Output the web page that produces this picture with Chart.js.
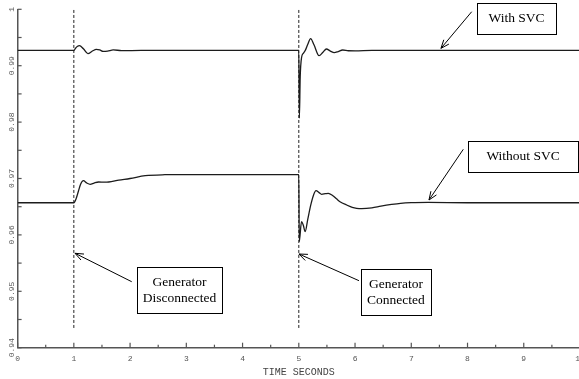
<!DOCTYPE html>
<html><head><meta charset="utf-8">
<script src="https://cdn.jsdelivr.net/npm/chart.js@4/dist/chart.umd.min.js"></script>
<style>html,body{margin:0;padding:0;overflow:hidden;background:#fff}#wrap{position:absolute;left:0;top:0;width:582px;height:379px}</style>
</head><body><div id="wrap"><canvas id="c" width="582" height="379"></canvas></div>
<script>
// ---- data ----
const timeWithSVC = [0, 1.0, 1.03, 1.06, 1.10, 1.17, 1.25, 1.33, 1.40, 1.46, 1.52, 1.60, 1.70, 1.85, 2.2, 3.0, 4.0, 5.0, 5.01, 5.025, 5.05, 5.08, 5.12, 5.16, 5.21, 5.27, 5.36, 5.43, 5.49, 5.56, 5.63, 5.70, 5.78, 5.88, 6.0, 6.3, 7.0, 8.0, 9.0, 10.0];
const voltWithSVC = [0.9927, 0.9927, 0.9931, 0.9934, 0.99355, 0.9930, 0.99215, 0.9926, 0.9929, 0.9928, 0.99255, 0.9926, 0.9928, 0.99268, 0.9927, 0.9927, 0.9927, 0.9927, 0.9807, 0.9880, 0.9915, 0.9922, 0.9928, 0.9938, 0.99479, 0.9937, 0.99177, 0.9924, 0.99296, 0.9926, 0.99231, 0.9925, 0.99278, 0.99265, 0.99262, 0.9927, 0.9927, 0.9927, 0.9927, 0.9927];
const timeWithoutSVC = [0, 1.0, 1.04, 1.08, 1.12, 1.17, 1.23, 1.29, 1.36, 1.44, 1.55, 1.62, 1.8, 2.0, 2.27, 2.62, 3.0, 4.0, 5.0, 5.008, 5.048, 5.08, 5.113, 5.16, 5.21, 5.26, 5.306, 5.36, 5.406, 5.47, 5.525, 5.6, 5.67, 5.732, 5.85, 5.95, 6.028, 6.12, 6.3, 6.46, 6.65, 6.81, 7.0, 7.3, 8.0, 9.0, 10.0];
const voltWithoutSVC = [0.9657, 0.9657, 0.9664, 0.9677, 0.9690, 0.96961, 0.9692, 0.96897, 0.9692, 0.96938, 0.96935, 0.96938, 0.9697, 0.9700, 0.9705, 0.97067, 0.9707, 0.9707, 0.9707, 0.9588, 0.96234, 0.9617, 0.96057, 0.9628, 0.9652, 0.9670, 0.96784, 0.9675, 0.9672, 0.9673, 0.96738, 0.9670, 0.9664, 0.96589, 0.9653, 0.9649, 0.96472, 0.96466, 0.9648, 0.9651, 0.9654, 0.9656, 0.96571, 0.96575, 0.9657, 0.9657, 0.9657];
const eventTimes = [1, 5];
const eventSpan = [0.9435, 1.0];
const xTicks = [0, 1, 2, 3, 4, 5, 6, 7, 8, 9, 10];
const yTicks = [0.94, 0.95, 0.96, 0.97, 0.98, 0.99, 1.0];
const yTickLabels = ['0.94', '0.95', '0.96', '0.97', '0.98', '0.99', '1'];
const xTitle = 'TIME SECONDS';
const noteTexts = [['With SVC'], ['Without SVC'], ['Generator', 'Disconnected'], ['Generator', 'Connected']];

// ---- annotation placement (data coordinates) ----
const notePlacement = [
  {box: [8.169, 1.0012, 9.573, 0.9957], tail: [8.074, 0.99957], tip: [7.528, 0.99308]},
  {box: [8.010, 0.97665, 9.965, 0.97115], tail: [7.925, 0.97518], tip: [7.315, 0.96619]},
  {box: [2.123, 0.95426, 3.634, 0.94615], tail: [2.029, 0.9517], tip: [1.021, 0.95674]},
  {box: [6.106, 0.95390, 7.350, 0.94578], tail: [6.070, 0.95188], tip: [5.003, 0.95661]}
];

const toXY = (ts, vs) => ts.map((t, i) => ({x: t, y: vs[i]}));
const datasets = [
  {data: toXY(timeWithSVC, voltWithSVC), borderColor: '#1c1c1c', borderWidth: 1.3, pointRadius: 0, cubicInterpolationMode: 'monotone'},
  {data: toXY(timeWithoutSVC, voltWithoutSVC), borderColor: '#1c1c1c', borderWidth: 1.3, pointRadius: 0, cubicInterpolationMode: 'monotone'}
];
eventTimes.forEach(t => datasets.push({
  data: eventSpan.map(v => ({x: t, y: v})), borderColor: '#222', borderWidth: 1, borderDash: [3, 2], pointRadius: 0
}));

const mono = '"Liberation Mono", "DejaVu Sans Mono", monospace';

const decorPlugin = {
  id: 'decor',
  afterDatasetsDraw(chart) {
    const {ctx} = chart;
    const xs = chart.scales.x, ys = chart.scales.y;
    const a = chart.chartArea;
    ctx.save();
    // inner tick marks
    ctx.strokeStyle = '#555';
    ctx.lineWidth = 1.2;
    for (let k = 0; k <= 20; k++) {
      const px = xs.getPixelForValue(k / 2);
      const len = k % 2 === 0 ? 5 : 3;
      ctx.beginPath(); ctx.moveTo(px, a.bottom); ctx.lineTo(px, a.bottom - len); ctx.stroke();
    }
    for (let k = 0; k <= 12; k++) {
      const py = ys.getPixelForValue(0.94 + k * 0.005);
      ctx.beginPath(); ctx.moveTo(a.left, py); ctx.lineTo(a.left + 4, py); ctx.stroke();
    }
    // rotated y labels
    ctx.fillStyle = '#555';
    ctx.font = '8px ' + mono;
    ctx.textAlign = 'center';
    ctx.textBaseline = 'middle';
    yTicks.forEach((v, i) => {
      const py = ys.getPixelForValue(v);
      ctx.save();
      ctx.translate(12, py);
      ctx.rotate(-Math.PI / 2);
      ctx.fillText(yTickLabels[i], 0, 0);
      ctx.restore();
    });
    // annotations
    ctx.strokeStyle = '#000';
    ctx.fillStyle = '#000';
    ctx.lineWidth = 1;
    ctx.font = '13.5px "Liberation Serif", "Times New Roman", serif';
    noteTexts.forEach((lines, i) => {
      const p = notePlacement[i];
      const x1 = xs.getPixelForValue(p.box[0]), y1 = ys.getPixelForValue(p.box[1]);
      const x2 = xs.getPixelForValue(p.box[2]), y2 = ys.getPixelForValue(p.box[3]);
      ctx.strokeRect(Math.round(x1) + 0.5, Math.round(y1) + 0.5, Math.round(x2 - x1), Math.round(y2 - y1));
      const cx = (x1 + x2) / 2, cy = (y1 + y2) / 2;
      const lh = 16;
      lines.forEach((s, j) => {
        ctx.fillText(s, cx, cy + (j - (lines.length - 1) / 2) * lh);
      });
      const tx = xs.getPixelForValue(p.tail[0]), ty = ys.getPixelForValue(p.tail[1]);
      const hx = xs.getPixelForValue(p.tip[0]), hy = ys.getPixelForValue(p.tip[1]);
      ctx.beginPath(); ctx.moveTo(tx, ty); ctx.lineTo(hx, hy); ctx.stroke();
      const ang = Math.atan2(hy - ty, hx - tx);
      const L = 9, w = 0.38;
      ctx.beginPath();
      ctx.moveTo(hx - L * Math.cos(ang - w), hy - L * Math.sin(ang - w));
      ctx.lineTo(hx, hy);
      ctx.lineTo(hx - L * Math.cos(ang + w), hy - L * Math.sin(ang + w));
      ctx.stroke();
    });
    ctx.restore();
  }
};

new Chart(document.getElementById('c'), {
  type: 'line',
  data: {datasets},
  plugins: [decorPlugin],
  options: {
    responsive: false,
    animation: false,
    devicePixelRatio: 1,
    layout: {padding: {left: 0, top: 9.3, right: 2, bottom: 0}},
    plugins: {legend: {display: false}, tooltip: {enabled: false}},
    scales: {
      x: {
        type: 'linear', min: 0, max: 10, position: 'bottom',
        afterBuildTicks: s => { s.ticks = xTicks.map(v => ({value: v})); },
        afterFit: s => { s.height = 31.3; s.paddingLeft = 0; s.paddingRight = 0; },
        grid: {display: true, drawOnChartArea: false, drawTicks: false},
        border: {display: true, color: '#555', width: 1.5},
        ticks: {autoSkip: false, maxRotation: 0, minRotation: 0, padding: 6, color: '#555', font: {family: mono, size: 8}},
        title: {display: true, text: xTitle, color: '#444', font: {family: mono, size: 10}, padding: {top: 0, bottom: 1}}
      },
      y: {
        type: 'linear', min: 0.94, max: 1.0,
        afterBuildTicks: s => { s.ticks = yTicks.map(v => ({value: v})); },
        afterFit: s => { s.width = 17.6; s.paddingTop = 0; s.paddingBottom = 0; },
        grid: {display: true, drawOnChartArea: false, drawTicks: false},
        border: {display: true, color: '#555', width: 1.5},
        ticks: {display: false}
      }
    }
  }
});
</script>
</body></html>
